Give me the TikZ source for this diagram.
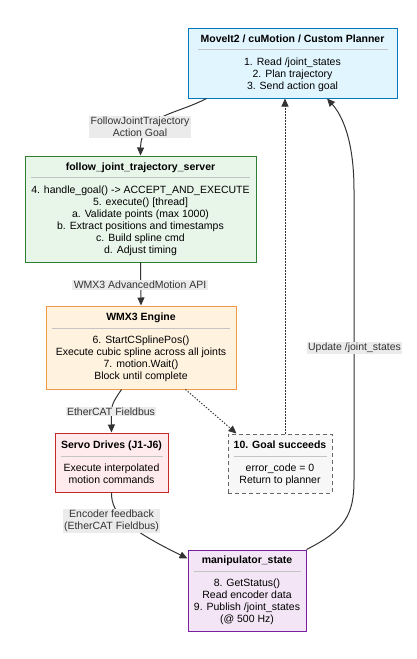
\documentclass[tikz,border=0pt]{standalone}
\usepackage{fontspec}
\setmainfont{Liberation Sans}
\usetikzlibrary{arrows.meta}

\definecolor{plannerfill}{HTML}{E1F5FE}
\definecolor{plannerline}{HTML}{0277BD}
\definecolor{serverfill}{HTML}{E8F5E9}
\definecolor{serverline}{HTML}{2E7D32}
\definecolor{enginefill}{HTML}{FFF3E0}
\definecolor{engineline}{HTML}{F39A48}
\definecolor{servofill}{HTML}{FFEBEE}
\definecolor{servoline}{HTML}{C62828}
\definecolor{goalfill}{HTML}{F7F7F7}
\definecolor{goalline}{HTML}{666666}
\definecolor{statefill}{HTML}{F3E5F5}
\definecolor{stateline}{HTML}{7B1FA2}
\definecolor{edgegray}{HTML}{333333}
\definecolor{lblfill}{HTML}{EBEBEB}
\definecolor{rulegray}{HTML}{C4C4C4}

% title separator of a box, #1 = its length
\newcommand{\divider}[1]{\\[-4pt]{\color{rulegray}\rule{#1}{1.2pt}}\\[3pt]}

\tikzset{
  stage/.style={draw, line width=1pt, inner sep=0pt, align=center,
    font=\fontsize{10.5}{12}\selectfont},
  lbl/.style={fill=lblfill, text=edgegray, inner xsep=1.5pt, inner ysep=1pt,
    align=center, font=\fontsize{10.5}{12}\selectfont},
  flow/.style={draw=edgegray, line width=1pt, -{Triangle[length=8pt,width=7pt]}},
  done/.style={flow, dash pattern=on 1.3pt off 1.7pt},
}

\begin{document}
\begin{tikzpicture}[x=1pt,y=-1pt]
  \useasboundingbox (0,0) rectangle (416,659);

  % boxes
  \node[stage, fill=plannerfill, draw=plannerline, minimum width=209pt, minimum height=70pt]
    (planner) at (292.5,63) {\textbf{MoveIt2 / cuMotion / Custom Planner}\divider{190pt}
    1. Read /joint\_states\\2. Plan trajectory\\3. Send action goal};
  \node[stage, fill=serverfill, draw=serverline, minimum width=231pt, minimum height=106pt]
    (server) at (140.5,209) {\textbf{follow\_joint\_trajectory\_server}\divider{219pt}
    4. handle\_goal() -> ACCEPT\_AND\_EXECUTE\\5. execute() [thread]\\
    a. Validate points (max 1000)\\b. Extract positions and timestamps\\
    c. Build spline cmd\\d. Adjust timing};
  \node[stage, fill=enginefill, draw=engineline, minimum width=190pt, minimum height=83pt]
    (engine) at (141,347.5) {\textbf{WMX3 Engine}\divider{178pt}
    6. StartCSplinePos()\\Execute cubic spline across all joints\\
    7. motion.Wait()\\Block until complete};
  \node[stage, fill=servofill, draw=servoline, minimum width=113pt, minimum height=59pt]
    (servo) at (111.5,462.5) {\textbf{Servo Drives (J1-J6)}\divider{102pt}
    Execute interpolated\\motion commands};
  \node[stage, fill=goalfill, draw=goalline, dash pattern=on 4pt off 3pt,
    minimum width=104pt, minimum height=59pt]
    (goal) at (280,463.5) {\textbf{10. Goal succeeds}\divider{93pt}
    error\_code = 0\\Return to planner};
  \node[stage, fill=statefill, draw=stateline, minimum width=118pt, minimum height=81pt]
    (state) at (247,590.5) {\textbf{manipulator\_state}\divider{107pt}
    8. GetStatus()\\ Read encoder data\\9. Publish /joint\_states\\(@ 500 Hz)};

  % connectors
  \draw[flow] ([xshift=19pt]planner.south west) .. controls (175,115) and (141,115) .. (server.north);
  \draw[flow] (server.south) -- (engine.north);
  \draw[flow] ([xshift=76pt]engine.south west) .. controls (111,405) .. (servo.north);
  \draw[done] ([xshift=140pt]engine.south west) -- ([xshift=9pt]goal.north west);
  \draw[done] ([xshift=5pt]goal.north) -- ([xshift=-7.5pt]planner.south);
  \draw[flow] (servo.south) .. controls (111,515) and (130,530) .. ([yshift=-9pt]state.north west);
  \draw[flow] (state.north east) .. controls (345,530) and (354,515) .. (354,480)
    -- (354,190) .. controls (354,140) and (342,115) .. ([xshift=34.5pt]planner.south);

  % connector labels
  \node[lbl] (goallbl) at (140,127) {FollowJointTrajectory\\Action Goal};
  \node[lbl] (apilbl) at (140,285) {WMX3 AdvancedMotion API};
  \node[lbl] (buslbl) at (111,411.5) {EtherCAT Fieldbus};
  \node[lbl] (feedlbl) at (111.5,521) {Encoder feedback\\(EtherCAT Fieldbus)};
  \node[lbl] (updlbl) at (354.5,348) {Update /joint\_states};
\end{tikzpicture}
\end{document}
